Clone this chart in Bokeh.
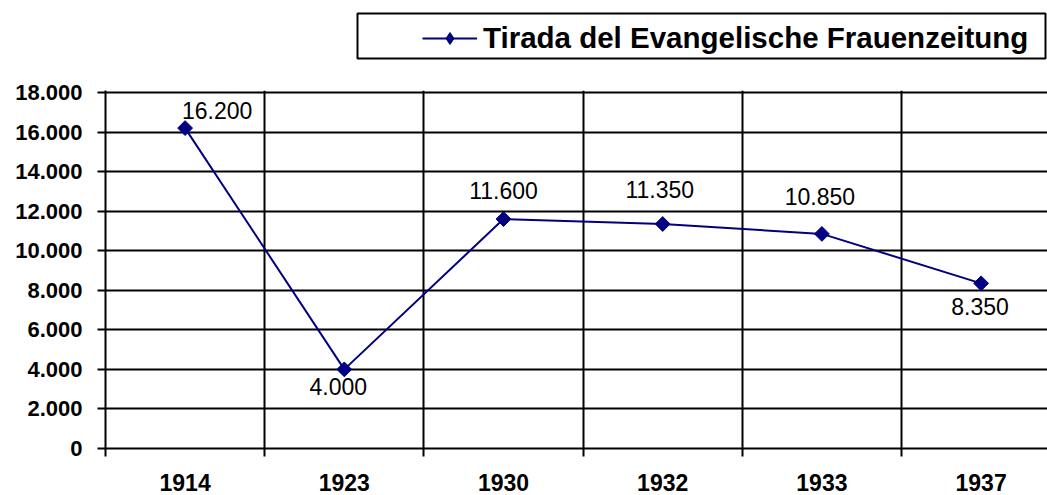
import numpy as np
from bokeh.plotting import figure
from bokeh.layouts import column
from bokeh.models import (ColumnDataSource, Range1d, FixedTicker, LabelSet,
                          Legend, LegendItem, BoxAnnotation)
from bokeh.core.properties import value
from bokeh.embed import file_html
from bokeh.resources import INLINE

# ---------------- data ----------------
years = ["1914", "1923", "1930", "1932", "1933", "1937"]
tirada = [16200, 4000, 11600, 11350, 10850, 8350]
tirada_labels = ["16.200", "4.000", "11.600", "11.350", "10.850", "8.350"]
y_ticks = [0, 2000, 4000, 6000, 8000, 10000, 12000, 14000, 16000, 18000]
y_tick_labels = ["0", "2.000", "4.000", "6.000", "8.000", "10.000",
                 "12.000", "14.000", "16.000", "18.000"]
series_name = "Tirada del Evangelische Frauenzeitung"

# label placement offsets in pixels (style, not data)
label_dx = [32, -6, 0, -3, -2, -1]
label_dy = [18, -17, 29, 35, 37, -23]

FONT = "Liberation Sans"
NAVY = "#000080"
W = 1047
TOP_H = 76          # legend strip height
MAIN_H = 419        # chart height
LEFT = 105
CAT_PX = 159.2

xs = [i + 0.5 for i in range(len(years))]
src = ColumnDataSource(dict(x=xs, y=tirada, label=tirada_labels,
                            dx=label_dx, dy=label_dy))

line_style = dict(line_color=NAVY, line_width=2)
marker_style = dict(marker="square", angle=np.pi / 4, size=10.5,
                    fill_color=NAVY, line_color=NAVY)

# ---------------- main chart ----------------
p = figure(width=W, height=MAIN_H, output_backend="svg", toolbar_location=None,
           x_range=Range1d(0, (W - LEFT) / CAT_PX), y_range=Range1d(0, 18100),
           min_border_left=LEFT, min_border_right=0, min_border_top=14,
           min_border_bottom=47)
p.outline_line_color = None
p.background_fill_color = "white"
p.border_fill_color = "white"

xa = p.xaxis[0]
xa.ticker = FixedTicker(ticks=xs, minor_ticks=list(range(0, len(years) + 1)))
xa.major_label_overrides = {x: y for x, y in zip(xs, years)}
xa.major_tick_out = 0
xa.major_tick_in = 0
xa.minor_tick_out = 8
xa.minor_tick_in = 0
xa.minor_tick_line_width = 2
xa.minor_tick_line_color = "black"
xa.axis_line_width = 2
xa.axis_line_color = "black"
xa.major_label_text_font = FONT
xa.major_label_text_font_style = "bold"
xa.major_label_text_font_size = "23px"
xa.major_label_text_color = "black"
xa.major_label_standoff = 17

ya = p.yaxis[0]
ya.ticker = FixedTicker(ticks=y_ticks, minor_ticks=[])
ya.major_label_overrides = {t: l for t, l in zip(y_ticks, y_tick_labels)}
ya.major_tick_out = 8
ya.major_tick_in = 0
ya.major_tick_line_width = 2
ya.major_tick_line_color = "black"
ya.axis_line_width = 2
ya.axis_line_color = "black"
ya.major_label_text_font = FONT
ya.major_label_text_font_style = "bold"
ya.major_label_text_font_size = "22px"
ya.major_label_text_color = "black"
ya.major_label_standoff = 15

p.xgrid.ticker = FixedTicker(ticks=list(range(1, len(years))))
p.xgrid.grid_line_color = "black"
p.xgrid.grid_line_width = 2
p.ygrid.ticker = FixedTicker(ticks=y_ticks)
p.ygrid.grid_line_color = "black"
p.ygrid.grid_line_width = 2

p.line("x", "y", source=src, **line_style)
p.scatter("x", "y", source=src, **marker_style)

labels = LabelSet(x="x", y="y", text="label", x_offset="dx", y_offset="dy",
                  source=src, text_font=value(FONT), text_font_size="23px",
                  text_align="center", text_baseline="middle",
                  text_color="black")
p.add_layout(labels)

# ---------------- legend strip ----------------
# frame of this strip is aligned with the chart's frame (starts at LEFT);
# its ranges are in pixels, so the series itself lies far outside and is clipped
top = figure(width=W, height=TOP_H, output_backend="svg", toolbar_location=None,
             x_range=Range1d(LEFT, W), y_range=Range1d(0, TOP_H),
             x_axis_location=None, y_axis_location=None,
             min_border_left=LEFT, min_border_right=0,
             min_border_top=0, min_border_bottom=0)
top.outline_line_color = None
top.grid.visible = False
top.background_fill_color = "white"
top.border_fill_color = "white"

lg_line = top.line("x", "y", source=src, **line_style)
lg_pts = top.scatter("x", "y", source=src, marker="diamond", size=16,
                     fill_color=NAVY, line_color=NAVY)

box = BoxAnnotation(left=357, right=1045, top=TOP_H - 13, bottom=TOP_H - 58,
                    fill_color=None, line_color="black", line_alpha=1.0,
                    line_width=2)
top.add_layout(box)

legend = Legend(items=[LegendItem(label=series_name, renderers=[lg_line, lg_pts])],
                location=(422 - LEFT, TOP_H - 55), orientation="vertical",
                padding=5, glyph_width=55, glyph_height=30, label_standoff=6,
                label_text_font=FONT, label_text_font_style="bold",
                label_text_font_size="29.5px", label_text_color="black",
                border_line_color=None, background_fill_alpha=0,
                margin=0, spacing=0)
top.add_layout(legend)

layout = column(top, p, spacing=0)
open("out.html", "w").write(file_html(layout, INLINE))
